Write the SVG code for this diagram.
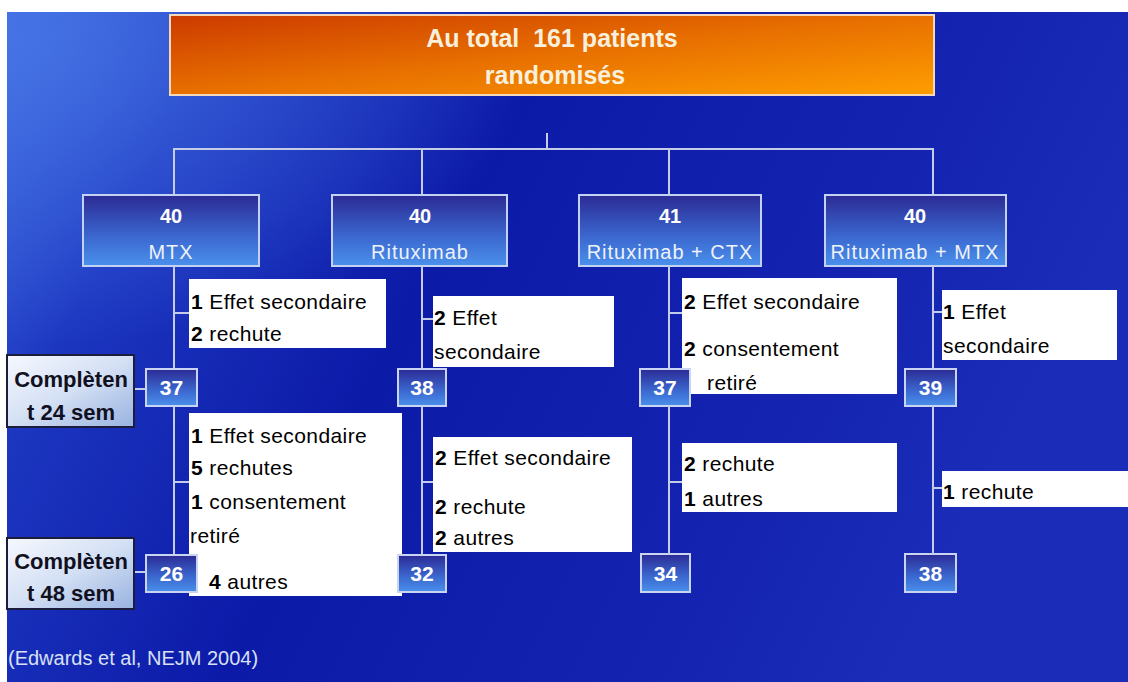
<svg xmlns="http://www.w3.org/2000/svg" width="1128" height="682" viewBox="0 0 1128 682">
<defs>
<linearGradient id="gBg" x1="0" y1="0" x2="1" y2="0.3">
<stop offset="0" stop-color="#3d68e0"/>
<stop offset="0.18" stop-color="#1c36c0"/>
<stop offset="0.45" stop-color="#0c1aa8"/>
<stop offset="0.8" stop-color="#1424b0"/>
<stop offset="1" stop-color="#1a2cb8"/>
</linearGradient>
<radialGradient id="gGlow" cx="0.02" cy="0.05" r="0.45">
<stop offset="0" stop-color="#4a7ae8" stop-opacity="0.7"/>
<stop offset="1" stop-color="#4a7ae8" stop-opacity="0"/>
</radialGradient>
<linearGradient id="gOrange" x1="0" y1="0" x2="1" y2="1">
<stop offset="0" stop-color="#cc3a00"/>
<stop offset="0.5" stop-color="#e87000"/>
<stop offset="1" stop-color="#ff9e00"/>
</linearGradient>
<linearGradient id="gBlue" x1="0" y1="0" x2="0" y2="1">
<stop offset="0" stop-color="#2c2a94"/>
<stop offset="0.55" stop-color="#3a64cc"/>
<stop offset="1" stop-color="#4a90ec"/>
</linearGradient>
<linearGradient id="gComp" x1="0" y1="0" x2="1" y2="1">
<stop offset="0" stop-color="#f6f8fe"/>
<stop offset="0.5" stop-color="#d4e0f4"/>
<stop offset="1" stop-color="#98b2e0"/>
</linearGradient>
</defs>
<style>
.line{stroke:#c4cce8;stroke-width:2;fill:none}
.wbox{fill:#ffffff}
.wt{font-family:"Liberation Sans",Arial,sans-serif;font-size:21px;fill:#000;letter-spacing:0.4px}
.b{font-weight:bold}
.top{fill:url(#gBlue);stroke:#c4d2f2;stroke-width:2}
.tnum{font-family:"Liberation Sans",Arial,sans-serif;font-weight:bold;font-size:20px;fill:#ffffff;text-anchor:middle}
.tlab{font-family:"Liberation Sans",Arial,sans-serif;font-size:20px;fill:#eef2fa;text-anchor:middle;letter-spacing:1px}
.nbox{fill:url(#gBlue);stroke:#c8d4f0;stroke-width:2}
.num{font-family:"Liberation Sans",Arial,sans-serif;font-weight:bold;font-size:21px;fill:#ffffff;text-anchor:middle}
.cbox{fill:url(#gComp);stroke:#1c1c3c;stroke-width:2}
.ct{font-family:"Liberation Sans",Arial,sans-serif;font-weight:bold;font-size:22px;fill:#101020;text-anchor:middle}
</style>
<rect x="0" y="0" width="1128" height="682" fill="#ffffff"/>
<rect x="7" y="12" width="1121" height="670" fill="url(#gBg)"/>
<rect x="7" y="12" width="1121" height="670" fill="url(#gGlow)"/>

<g id="title">
<rect x="170" y="15" width="764" height="80" fill="url(#gOrange)" stroke="#f4d8b8" stroke-width="2"/>
<text x="552" y="47" xml:space="preserve" font-family="Liberation Sans, Arial, sans-serif" font-weight="bold" font-size="25" fill="#f8f0dc" text-anchor="middle">Au total  161 patients</text>
<text x="555" y="84" font-family="Liberation Sans, Arial, sans-serif" font-weight="bold" font-size="25" fill="#f8f0dc" text-anchor="middle">randomisés</text>
</g>

<g id="connectors">
<line class="line" x1="547" y1="133" x2="547" y2="149"/>
<line class="line" x1="173" y1="149" x2="934" y2="149"/>
<line class="line" x1="174" y1="149" x2="174" y2="556"/>
<line class="line" x1="422" y1="149" x2="422" y2="556"/>
<line class="line" x1="669" y1="149" x2="669" y2="556"/>
<line class="line" x1="933" y1="149" x2="933" y2="556"/>
<line class="line" x1="174" y1="313" x2="189" y2="313"/>
<line class="line" x1="174" y1="482" x2="189" y2="482"/>
<line class="line" x1="422" y1="319" x2="433" y2="319"/>
<line class="line" x1="422" y1="482" x2="433" y2="482"/>
<line class="line" x1="669" y1="313" x2="682" y2="313"/>
<line class="line" x1="669" y1="482" x2="682" y2="482"/>
<line class="line" x1="933" y1="312" x2="942" y2="312"/>
<line class="line" x1="933" y1="488" x2="942" y2="488"/>
<line class="line" x1="134" y1="389" x2="147" y2="389"/>
<line class="line" x1="134" y1="572" x2="147" y2="572"/>
</g>

<g id="arm-mtx">
<rect class="top" x="83" y="195" width="176" height="71"/>
<text class="tnum" x="171" y="223">40</text>
<text class="tlab" x="171" y="259">MTX</text>
</g>
<g id="arm-rituximab">
<rect class="top" x="332" y="195" width="175" height="71"/>
<text class="tnum" x="420" y="223">40</text>
<text class="tlab" x="420" y="259">Rituximab</text>
</g>
<g id="arm-rtx-ctx">
<rect class="top" x="579" y="195" width="182" height="71"/>
<text class="tnum" x="670" y="223">41</text>
<text class="tlab" x="670" y="259">Rituximab + CTX</text>
</g>
<g id="arm-rtx-mtx">
<rect class="top" x="825" y="195" width="181" height="71"/>
<text class="tnum" x="915" y="223">40</text>
<text class="tlab" x="915" y="259">Rituximab + MTX</text>
</g>

<g id="mtx-drop1">
<rect class="wbox" x="189" y="279" width="197" height="69"/>
<text class="wt" x="191" y="309"><tspan class="b">1</tspan> Effet secondaire</text>
<text class="wt" x="191" y="341"><tspan class="b">2</tspan> rechute</text>
</g>
<g id="mtx-drop2">
<rect class="wbox" x="189" y="413" width="213" height="183"/>
<text class="wt" x="191" y="443"><tspan class="b">1</tspan> Effet secondaire</text>
<text class="wt" x="191" y="475"><tspan class="b">5</tspan> rechutes</text>
<text class="wt" x="191" y="509"><tspan class="b">1</tspan> consentement</text>
<text class="wt" x="190" y="543">retiré</text>
<text class="wt" x="209" y="589"><tspan class="b">4</tspan> autres</text>
</g>
<g id="rtx-drop1">
<rect class="wbox" x="433" y="296" width="181" height="71"/>
<text class="wt" x="434" y="325"><tspan class="b">2</tspan> Effet</text>
<text class="wt" x="434" y="359">secondaire</text>
</g>
<g id="rtx-drop2">
<rect class="wbox" x="433" y="437" width="199" height="115"/>
<text class="wt" x="435" y="465"><tspan class="b">2</tspan> Effet secondaire</text>
<text class="wt" x="435" y="514"><tspan class="b">2</tspan> rechute</text>
<text class="wt" x="435" y="545"><tspan class="b">2</tspan> autres</text>
</g>
<g id="ctx-drop1">
<rect class="wbox" x="682" y="278" width="215" height="116"/>
<text class="wt" x="684" y="309"><tspan class="b">2</tspan> Effet secondaire</text>
<text class="wt" x="684" y="356"><tspan class="b">2</tspan> consentement</text>
<text class="wt" x="707" y="390">retiré</text>
</g>
<g id="ctx-drop2">
<rect class="wbox" x="682" y="443" width="215" height="69"/>
<text class="wt" x="684" y="471"><tspan class="b">2</tspan> rechute</text>
<text class="wt" x="684" y="506"><tspan class="b">1</tspan> autres</text>
</g>
<g id="rmtx-drop1">
<rect class="wbox" x="942" y="290" width="175" height="70"/>
<text class="wt" x="943" y="319"><tspan class="b">1</tspan> Effet</text>
<text class="wt" x="943" y="353">secondaire</text>
</g>
<g id="rmtx-drop2">
<rect class="wbox" x="942" y="471" width="186" height="36"/>
<text class="wt" x="943" y="499"><tspan class="b">1</tspan> rechute</text>
</g>

<g id="mtx-24"><rect class="nbox" x="146" y="369" width="51" height="37"/><text class="num" x="171.5" y="395">37</text></g>
<g id="mtx-48"><rect class="nbox" x="146" y="555" width="51" height="37"/><text class="num" x="171.5" y="581">26</text></g>
<g id="rtx-24"><rect class="nbox" x="398" y="369" width="48" height="37"/><text class="num" x="422" y="395">38</text></g>
<g id="rtx-48"><rect class="nbox" x="398" y="555" width="48" height="37"/><text class="num" x="422" y="581">32</text></g>
<g id="ctx-24"><rect class="nbox" x="640" y="369" width="50" height="37"/><text class="num" x="665" y="395">37</text></g>
<g id="ctx-48"><rect class="nbox" x="641" y="554" width="49" height="38"/><text class="num" x="665.5" y="581">34</text></g>
<g id="rmtx-24"><rect class="nbox" x="905" y="369" width="51" height="37"/><text class="num" x="930.5" y="395">39</text></g>
<g id="rmtx-48"><rect class="nbox" x="905" y="554" width="51" height="38"/><text class="num" x="930.5" y="581">38</text></g>

<g id="complete-24">
<rect class="cbox" x="7" y="355" width="127" height="72"/>
<text class="ct" x="71" y="387">Complèten</text>
<text class="ct" x="71" y="420">t 24 sem</text>
</g>
<g id="complete-48">
<rect class="cbox" x="7" y="538" width="127" height="71"/>
<text class="ct" x="71" y="569">Complèten</text>
<text class="ct" x="71" y="601">t 48 sem</text>
</g>

<text x="8" y="665" font-family="Liberation Sans, Arial, sans-serif" font-size="20" fill="#d8e0f4">(Edwards et al, NEJM 2004)</text>
</svg>
